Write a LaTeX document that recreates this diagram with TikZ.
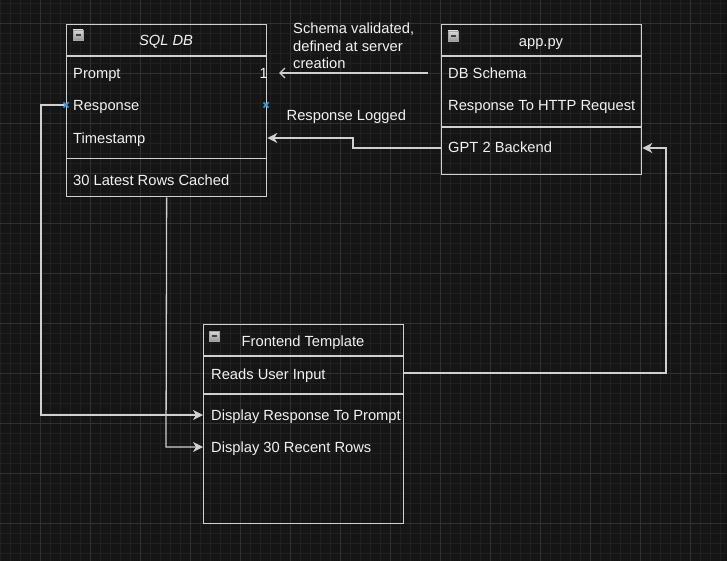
\documentclass[tikz,border=0pt]{standalone}
\usepackage{fontspec}
\setmainfont{Liberation Sans}
\usetikzlibrary{arrows.meta}
\definecolor{bg}{HTML}{151515}
\definecolor{gridminor}{HTML}{202020}
\definecolor{gridmajor}{HTML}{313131}
\definecolor{boxc}{HTML}{D0D0D0}
\definecolor{fg}{HTML}{F2F2F2}
\definecolor{mark}{HTML}{3A9BDC}
\tikzset{
  box/.style={draw=boxc, line width=1.3pt, minimum width=200pt, inner sep=0pt, anchor=north west},
  sep/.style={draw=boxc, line width=1.3pt},
  txt/.style={anchor=base west, inner sep=0pt, text=fg},
  head/.style={anchor=base, inner sep=0pt, text=fg},
  conn/.style={draw=boxc, line width=1.3pt},
  tip/.style={-{Stealth[length=10pt,width=10pt,inset=3pt]}},
  opentip/.style={-{Straight Barb[length=5pt,width=10pt,line width=1.3pt]}},
  xmark/.style={draw=mark, line width=1.7pt},
}
\newcommand{\minusicon}[2]{%
  \shade[top color=white!85!black, bottom color=white!60!black, draw=gray!70] (#1,#2) rectangle ++(10,10);
  \draw[line width=1.6pt, color=black!75] (#1+2.5,#2+5) -- (#1+7.5,#2+5);}
\begin{document}
\begin{tikzpicture}[x=1pt,y=-1pt,font=\fontsize{14.7}{17.5}\selectfont]
\fill[bg] (0,0) rectangle (727,561);
\useasboundingbox (0,0) rectangle (727,561);
\foreach \x in {0,10,...,720} \draw[gridminor, line width=0.8pt] (\x,0) -- (\x,561);
\foreach \y in {3,13,...,561} \draw[gridminor, line width=0.8pt] (0,\y) -- (727,\y);
\foreach \x in {40,90,...,720} \draw[gridmajor, line width=0.9pt] (\x,0) -- (\x,561);
\foreach \y in {23,73,...,561} \draw[gridmajor, line width=0.9pt] (0,\y) -- (727,\y);

% SQL DB
\node[box, minimum height=172pt] (sql) at (66,24) {};
\draw[sep] (66,56) -- (266,56);
\draw[sep] (66,158.5) -- (266,158.5);
\minusicon{73}{30}
\node[head] (sqlh) at (166,46) {\itshape SQL DB};
\node[txt] (sqlp) at (73,79) {Prompt};
\node[txt] (sqlr) at (73,111) {Response};
\node[txt] (sqlt) at (73,144) {Timestamp};
\node[txt] (sqlc) at (73,186) {30 Latest Rows Cached};
\node[anchor=base east, inner sep=0pt, text=fg] (one) at (268,79) {1};

% app.py
\node[box, minimum height=150pt] (app) at (441,24) {};
\draw[sep] (441,56) -- (641,56);
\draw[sep] (441,127) -- (641,127);
\minusicon{448}{31}
\node[head] (apph) at (541,46.5) {app.py};
\node[txt] (appd) at (448,79) {DB Schema};
\node[txt] (appr) at (448,111) {Response To HTTP Request};
\node[txt] (appg) at (448,153) {GPT 2 Backend};

% Frontend
\node[box, minimum height=199pt] (fe) at (203,324) {};
\draw[sep] (203,356) -- (403,356);
\draw[sep] (203,394) -- (403,394);
\minusicon{209}{331}
\node[head] (feh) at (303,346) {Frontend Template};
\node[txt] (fer) at (211,379) {Reads User Input};
\node[txt] (fed) at (211,420) {Display Response To Prompt};
\node[txt] (fe30) at (211,452) {Display 30 Recent Rows};

% labels
\node[txt] (l1) at (293,34) {Schema validated,};
\node[txt] (l2) at (293,51.5) {defined at server};
\node[txt] (l3) at (293,69) {creation};
\node[txt] (l4) at (286.5,120.5) {Response Logged};

% connectors
\coordinate (s1) at (428,73);
\coordinate (s2) at (279,73);
\draw[conn, opentip] (s1) -- (s2);
\draw[conn, tip] (app.west |- 0,148) -- (353,148) -- (353,138) -- (sql.east |- 0,138);
\draw[conn, tip] (fe.east |- 0,373) -- (666,373) -- (666,148) -- (app.east |- 0,148);
\draw[conn, tip] (sql.west |- 0,105) -- (41,105) -- (41,415) -- (fe.west |- 0,415);
\draw[conn, tip] (sql.south) -- (166,447) -- (fe.west |- 0,447);

% connection markers
\draw[xmark] (63.5,102.5) -- (68.5,107.5) (63.5,107.5) -- (68.5,102.5);
\draw[xmark] (263.5,102.5) -- (268.5,107.5) (263.5,107.5) -- (268.5,102.5);
\end{tikzpicture}
\end{document}
